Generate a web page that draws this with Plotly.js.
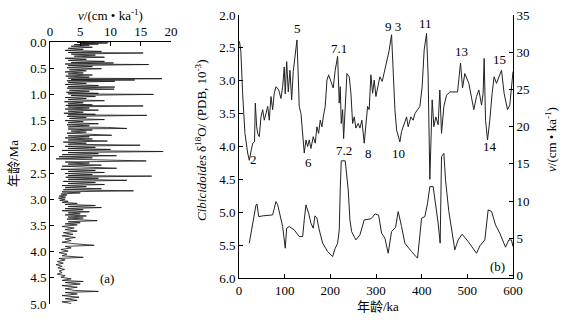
<!DOCTYPE html>
<html>
<head>
<meta charset="utf-8">
<script src="https://cdn.plot.ly/plotly-3.0.1.min.js"></script>
<style>
  html, body { margin: 0; padding: 0; background: #fff; }
  #chart { width: 562px; height: 326px; }
</style>
</head>
<body>
<div id="chart"></div>
<script>
// (a) sedimentation rate, 0-5 Ma
var ageA = [0.00,0.01,0.02,0.03,0.04,0.05,0.06,0.08,0.10,0.12,0.14,0.16,0.18,0.20,0.21,0.23,0.25,0.27,0.29,0.31,
  0.33,0.35,0.37,0.39,0.40,0.42,0.43,0.45,0.47,0.49,0.51,0.53,0.55,0.57,0.59,0.61,0.63,0.65,0.67,0.69,
  0.70,0.715,0.725,0.74,0.75,0.77,0.79,0.81,0.83,0.85,0.86,0.88,0.90,0.92,0.94,0.96,0.98,0.99,1.00,1.02,
  1.04,1.06,1.08,1.10,1.12,1.14,1.16,1.18,1.20,1.21,1.22,1.24,1.26,1.28,1.30,1.32,1.34,1.36,1.38,1.39,
  1.40,1.42,1.44,1.46,1.48,1.50,1.52,1.54,1.56,1.58,1.60,1.62,1.63,1.65,1.66,1.68,1.70,1.72,1.74,1.76,
  1.78,1.79,1.81,1.83,1.85,1.87,1.89,1.91,1.93,1.95,1.97,1.99,2.01,2.03,2.05,2.07,2.09,2.11,2.13,2.15,
  2.17,2.19,2.21,2.23,2.25,2.27,2.29,2.31,2.33,2.35,2.37,2.39,2.41,2.43,2.45,2.47,2.49,2.51,2.53,2.55,
  2.56,2.58,2.60,2.62,2.64,2.66,2.68,2.70,2.72,2.74,2.76,2.78,2.80,2.82,2.84,2.86,2.88,2.90,2.92,2.94,
  2.96,2.98,3.00,3.02,3.04,3.06,3.08,3.10,3.12,3.14,3.16,3.18,3.20,3.22,3.24,3.26,3.28,3.30,3.32,3.34,
  3.36,3.38,3.41,3.43,3.45,3.47,3.49,3.52,3.55,3.58,3.61,3.64,3.67,3.70,3.73,3.76,3.79,3.82,3.85,3.88,
  3.90,3.93,3.96,3.99,4.02,4.05,4.08,4.11,4.13,4.16,4.19,4.22,4.25,4.28,4.31,4.34,4.37,4.40,4.43,4.46,
  4.49,4.52,4.55,4.57,4.59,4.62,4.65,4.68,4.71,4.74,4.76,4.78,4.81,4.84,4.87,4.90,4.93,4.96,4.99];
var rateA = [9.8,4.5,9.5,5.0,8.0,4.0,6.5,3.5,7.0,3.0,5.5,2.5,8.5,3.0,15.4,3.5,7.5,4.0,9.0,2.5,
  6.0,3.0,9.0,3.5,10.5,2.5,16.3,3.0,7.0,2.8,8.5,3.2,6.0,2.5,5.5,3.0,7.0,2.6,6.5,3.0,
  18.5,3.5,14.0,2.8,10.7,3.0,6.0,2.5,8.0,3.0,10.7,2.8,10.6,3.2,6.5,2.7,8.0,3.0,17.1,3.5,
  7.5,2.5,6.0,3.0,9.0,2.4,5.5,3.0,7.0,2.6,15.4,3.0,6.5,2.5,8.0,3.0,5.5,2.3,7.5,3.0,
  16.0,2.8,6.0,3.2,9.0,2.5,5.5,3.0,8.0,2.8,6.5,3.0,9.5,12.7,3.0,7.0,3.5,6.0,2.8,8.5,
  10.2,3.0,6.5,2.5,7.0,3.0,9.5,2.2,6.0,3.0,14.9,2.5,7.5,3.0,10.0,2.0,18.7,3.0,8.0,2.0,
  11.0,1.5,7.0,1.0,9.0,15.9,2.5,6.5,3.0,8.5,2.0,6.0,11.0,1.8,7.5,3.0,9.0,2.5,7.0,3.0,
  16.8,2.6,8.0,3.0,12.7,2.2,7.5,3.0,9.0,2.0,6.0,2.5,8.5,2.2,13.8,2.0,5.0,1.8,2.8,1.5,
  2.6,1.4,2.5,1.6,3.0,2.0,4.5,2.5,7.5,3.0,8.5,2.5,5.5,2.0,6.5,3.0,5.0,2.5,6.0,3.0,
  5.5,2.8,7.8,3.0,5.0,2.5,4.5,2.0,4.0,2.5,4.5,2.2,3.8,2.0,4.2,2.5,3.5,2.0,4.0,7.3,
  2.5,3.5,1.8,3.0,1.5,2.8,2.0,5.5,1.5,2.5,1.2,2.2,1.0,2.0,1.3,2.4,1.5,2.0,1.2,2.5,
  1.8,3.5,2.0,5.5,2.5,5.0,2.0,4.5,2.5,4.0,8.0,2.5,4.5,2.0,4.8,2.5,4.5,2.0,3.5];

// (b) Cibicidoides d18O, 0-600 ka
var ageO = [1,4,8,13,19,22.5,27,30,34,35.7,38.7,40.9,44.4,48.1,51.9,55.4,59.1,62.8,66.3,70,
  73.7,77,81,86.9,91.9,95.6,99.1,101.3,104.4,107.9,111.6,115.3,118.8,122.5,126.9,129.8,131.9,135.7,139.4,142.9,
  146.6,150.3,153.8,157.5,162.6,167,170.7,174.4,177.9,181.6,184.5,188.8,192.6,196.3,201.3,206.3,210.7,216,219.5,221.7,
  223.9,226.9,229.1,232.6,236.3,241.4,245.1,248.8,252.3,256,261,264.8,269.1,274.2,277.9,281.6,285.1,288.8,292.6,296.1,
  299.8,303.5,308.5,313.6,319.5,323.2,328.2,334.1,337.6,341.4,345.1,348.6,352.3,356,361.7,367,370.5,376.4,381.4,385.1,
  391,396.1,401.1,405.5,410.7,414.2,417.9,423,426.7,431.1,436.1,439.8,443.5,448.6,454.5,461.7,478.6,485.1,489.5,494.5,
  503.3,509.2,514.2,520.1,525.2,531.1,534.6,536.8,539.9,544.2,549.2,554.3,558.6,563.9,568.9,574.8,580.5,588,593,596.7,600];
var d18O = [2.4,2.55,3.2,3.8,4.1,4.21,4.05,3.95,3.93,3.34,3.7,3.8,3.85,3.55,3.44,3.6,3.5,3.39,3.6,3.24,
  3.44,3.2,3.09,3.14,3.27,3.09,2.79,3.2,2.71,3.17,2.84,3.29,2.86,2.63,2.38,2.94,3.39,3.5,3.85,4.1,
  3.9,4.0,3.9,4.03,3.85,3.95,3.7,3.8,3.6,3.7,3.55,3.39,2.99,2.91,3.01,3.11,2.84,2.63,3.34,3.09,
  3.65,3.44,3.88,3.44,2.89,2.94,3.19,3.65,3.55,3.72,3.65,3.72,3.6,3.95,3.6,3.39,3.44,2.91,3.19,2.99,
  3.24,3.09,2.94,3.01,2.81,2.73,2.56,2.3,2.84,3.44,3.75,3.85,3.93,3.77,3.65,3.55,3.7,3.55,3.6,3.5,
  3.44,3.39,3.09,2.53,2.28,2.94,4.5,3.29,3.7,3.55,3.67,3.14,3.8,3.39,3.22,3.17,3.17,2.73,3.11,2.89,
  3.04,3.24,3.44,3.24,3.14,3.37,3.19,2.66,3.6,3.9,3.6,3.19,2.94,3.04,2.94,2.84,3.19,3.44,3.37,3.14,2.86];

// (b) sedimentation rate, 0-600 ka
var ageV = [22.5,33.5,37.2,39.4,43.1,51.9,73.7,77.3,81,84.7,88.2,95.6,101.3,104.4,110.1,121,131.9,139.4,142.9,146.6,
  152.5,157.5,162.6,166.3,170.7,175.7,183.2,194.1,205,210.7,216,219.5,221.7,223.9,232.6,236.3,239.2,242.9,246.6,256,
  264.8,274.2,288.8,298.3,305.7,312.3,319.5,326.7,334.1,342.9,348.6,356,363.2,377.9,391,399.8,407,412.9,417.9,425.2,
  430.4,436.1,440.5,443.5,448.6,452.3,459.5,472.6,479.9,488.6,501.8,520.1,527.4,538.3,545.6,553,561.7,571.1,583.6,590.8,
  596.7,600];
var rateB = [4.33,7.9,9.47,9.6,7.9,8.0,8.13,9.03,9.92,9.5,8.58,6.56,3.65,6.34,6.56,6.11,5.22,5.22,7.46,9.47,
  8.36,7.02,6.34,8.0,7.69,6.11,4.33,3.2,2.53,3.65,4.33,6.11,11.5,15.4,15.4,12.8,11.5,7.46,5.89,4.77,
  5.44,7.46,7.6,8.27,8.1,5.67,5.0,2.98,5.89,6.47,8.58,6.56,4.33,3.2,2.31,7.69,7.9,9.7,11.93,11.93,
  9.7,7.02,4.33,15.97,16.4,12.8,8.58,3.43,4.77,5.54,4.55,2.98,3.96,4.77,8.8,8.6,6.79,5.67,3.79,4.77,
  4.77,3.87];

// marine isotope stage labels
var stageText = ["2","5","6","7.1","7.2","8","9 3","10","11","13","14","15"];
var stageAge = [31,127,152.5,219.5,229,283,337.6,350,409,487,549,570];
var stageD18O = [4.2,2.2,4.25,2.51,4.06,4.11,2.18,4.11,2.13,2.56,4.0,2.68];

var W = 562, H = 326;
function px(x) { return x / W; }
function py(y) { return 1 - y / H; }

var serif = "'Liberation Serif', 'DejaVu Serif', 'Noto Sans CJK SC', serif";
var tickFont = { family: serif, size: 13, color: "#000" };

var data = [
  { x: rateA, y: ageA, xaxis: "x", yaxis: "y", type: "scatter", mode: "lines",
    line: { color: "#111", width: 0.8 }, hoverinfo: "skip" },
  { x: ageO, y: d18O, xaxis: "x2", yaxis: "y2", type: "scatter", mode: "lines",
    line: { color: "#222", width: 1 }, hoverinfo: "skip" },
  { x: ageV, y: rateB, xaxis: "x2", yaxis: "y3", type: "scatter", mode: "lines",
    line: { color: "#222", width: 1 }, hoverinfo: "skip" }
];

var axisBase = {
  showgrid: false, zeroline: false, showline: true, linecolor: "#000", linewidth: 1,
  ticks: "inside", ticklen: 4, tickcolor: "#000", tickfont: tickFont
};

var layout = {
  width: W, height: H,
  margin: { l: 0, r: 0, t: 0, b: 0 },
  paper_bgcolor: "#fff", plot_bgcolor: "rgba(0,0,0,0)",
  font: { family: serif, size: 13, color: "#000" },
  showlegend: false,
  xaxis: Object.assign({}, axisBase, {
    domain: [px(50), px(171)], range: [0, 20], side: "top", anchor: "y",
    tickvals: [0, 5, 10, 15, 20]
  }),
  yaxis: Object.assign({}, axisBase, {
    domain: [py(304), py(42)], range: [5, 0], anchor: "x",
    tickvals: [0, 0.5, 1, 1.5, 2, 2.5, 3, 3.5, 4, 4.5, 5], tickformat: ".1f"
  }),
  xaxis2: Object.assign({}, axisBase, {
    domain: [px(239), px(513)], range: [0, 600], anchor: "y2",
    tickvals: [0, 100, 200, 300, 400, 500, 600]
  }),
  yaxis2: Object.assign({}, axisBase, {
    domain: [py(278), py(15)], range: [6, 2], anchor: "x2",
    tickvals: [2, 2.5, 3, 3.5, 4, 4.5, 5, 5.5, 6], tickformat: ".1f"
  }),
  yaxis3: Object.assign({}, axisBase, {
    overlaying: "y2", side: "right", anchor: "x2", range: [-0.35, 35],
    tickvals: [0, 5, 10, 15, 20, 25, 30, 35]
  }),
  annotations: []
};

var ann = layout.annotations;
function addText(text, x, y, angle, size) {
  ann.push({ text: text, xref: "paper", yref: "paper", x: px(x), y: py(y),
    xanchor: "center", yanchor: "middle", showarrow: false, textangle: angle || 0,
    font: { family: serif, size: size || 13, color: "#000" } });
}

addText("<i>v</i>/(cm • ka<sup>-1</sup>)", 110, 15);
addText("年龄/Ma", 13, 163, -90);
addText("(a)", 107, 278);
addText("<i>Cibicidoides</i> δ<sup>18</sup>O/ (PDB, 10<sup>-3</sup>)", 201, 140, -90);
addText("<i>v</i>/(cm • ka<sup>-1</sup>)", 551, 140, -90);
addText("年龄/ka", 378, 306);

for (var i = 0; i < stageText.length; i++) {
  ann.push({ text: stageText[i], xref: "x2", yref: "y2", x: stageAge[i], y: stageD18O[i],
    showarrow: false, xanchor: "center", yanchor: "middle",
    font: { family: serif, size: 13, color: "#000" } });
}
ann.push({ text: "(b)", xref: "x2", yref: "y2", x: 565, y: 5.83, showarrow: false,
  font: { family: serif, size: 13, color: "#000" } });

Plotly.newPlot("chart", data, layout, { staticPlot: true });
</script>
</body>
</html>
